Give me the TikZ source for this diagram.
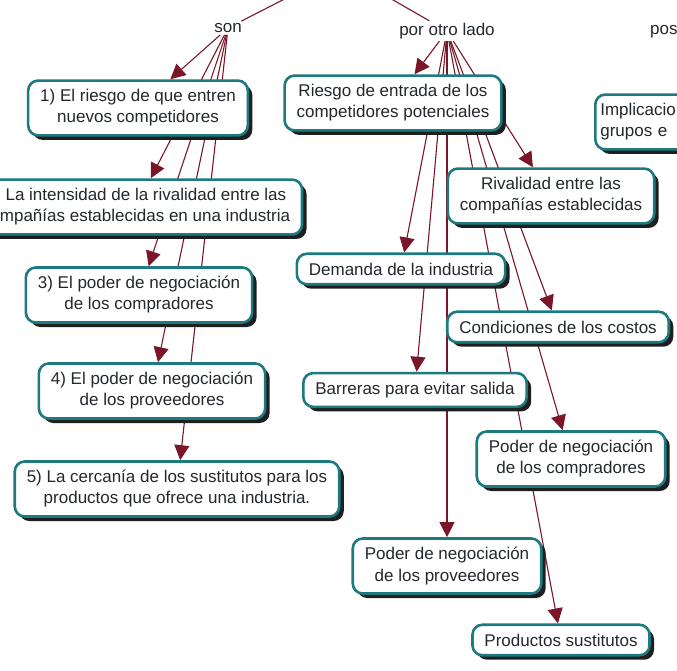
\documentclass[tikz,border=0pt]{standalone}
\usepackage{fontspec}
\setmainfont{Liberation Sans}
\usepackage{tikz}
\usetikzlibrary{arrows.meta,shadows,backgrounds}

\definecolor{borde}{RGB}{28,122,128}
\definecolor{flecha}{RGB}{122,22,40}
\definecolor{texto}{RGB}{35,40,45}

\begin{document}
\begin{tikzpicture}[x=1pt,y=-1pt,>={Triangle[length=15pt,width=15pt]},font=\fontsize{17}{21}\selectfont,text=texto]
	\tikzstyle{concepto}=[draw=borde, line width=2.6pt, fill=white, rounded corners=10pt, align=center, inner xsep=12pt, inner ysep=9pt,
		drop shadow={shadow xshift=4.5pt, shadow yshift=-4.5pt, fill=black!88, opacity=1}]
	\tikzstyle{enlace}=[inner sep=2pt]
	\tikzstyle{linea}=[color=flecha, line width=1.1pt]
	\tikzstyle{flechita}=[linea, ->]
	\useasboundingbox (0,0) rectangle (677,671);
	\clip (0,0) rectangle (677,671);

	\coordinate (raiz) at (341,-30);
	\node[enlace] (son) at (228,28) {son};
	\node[enlace] (otro) at (447,31) {por otro lado};
	\node[enlace, anchor=west] (pos) at (648,32) {pos};

	% columna izquierda
	\node[concepto] (r1) at (138,108) {1) El riesgo de que entren\\nuevos competidores};
	\node[concepto] (r2) at (136,207) {2) La intensidad de la rivalidad entre las\\compañías establecidas en una industria};
	\node[concepto] (r3) at (139,295) {3) El poder de negociación\\de los compradores};
	\node[concepto] (r4) at (152,391) {4) El poder de negociación\\de los proveedores};
	\node[concepto] (r5) at (177,489) {5) La cercanía de los sustitutos para los\\productos que ofrece una industria.};

	% columna derecha
	\node[concepto] (riesgo) at (393,103) {Riesgo de entrada de los\\competidores potenciales};
	\node[concepto] (rival) at (551,196) {Rivalidad entre las\\compañías establecidas};
	\node[concepto] (demanda) at (401,269) {Demanda de la industria};
	\node[concepto] (costos) at (558,327) {Condiciones de los costos};
	\node[concepto] (barreras) at (415,390) {Barreras para evitar salida};
	\node[concepto] (compr) at (571,459) {Poder de negociación\\de los compradores};
	\node[concepto] (prov) at (447,566) {Poder de negociación\\de los proveedores};
	\node[concepto] (sust) at (561,640) {Productos sustitutos};
	\node[concepto, anchor=west, align=left, text width=120pt, inner xsep=5pt] (implic) at (594,122) {Implicacio\\grupos e};

	\begin{pgfonlayer}{background}
		\path[linea]
			(raiz) edge (son)
			(raiz) edge (otro);
		\path[flechita]
			(son) edge (r1)
			(son) edge (r2)
			(son) edge (r3)
			(son) edge (r4)
			(son) edge (r5);
		\path[flechita]
			(otro) edge (riesgo)
			(otro) edge (rival)
			(otro) edge (demanda)
			(otro) edge (costos)
			(otro) edge (barreras)
			(otro) edge (compr)
			(otro) edge (prov)
			(otro) edge (sust);
	\end{pgfonlayer}
\end{tikzpicture}
\end{document}
